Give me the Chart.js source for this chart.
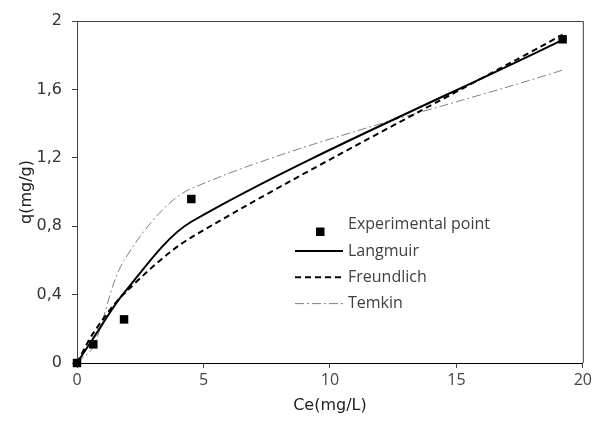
<!DOCTYPE html>
<html>
<head>
<meta charset="utf-8">
<script src="https://cdn.jsdelivr.net/npm/chart.js@4.4.1/dist/chart.umd.min.js"></script>
<style>
  html, body { margin: 0; padding: 0; background: #fff; }
  #wrap { width: 595px; height: 424px; }
</style>
</head>
<body>
<div id="wrap"><canvas id="isotherm" width="595" height="424"></canvas></div>
<script>
// equilibrium concentration Ce (mg/L) and uptake q (mg/g)
const ce = [0, 0.645, 1.86, 4.52, 19.2];
const qExperimental = [0, 0.109, 0.255, 0.959, 1.893];
const qLangmuir = [0, 0.145, 0.41, 0.826, 1.89];
const qFreundlich = [0, 0.175, 0.405, 0.735, 1.92];
const qTemkin = [0, 0.095, 0.6, 1.02, 1.713];

const xTicks = [0, 5, 10, 15, 20];
const yTicks = [0, 0.4, 0.8, 1.2, 1.6, 2];

const toPoints = (ys) => ce.map((x, i) => ({ x: x, y: ys[i] }));

// legend rows sit inside the plot, right of centre
const legendRows = [224.5, 251, 277.3, 303.6];
const legendLineX = [295, 343];
const legendTextX = 348;

const insideLegend = {
  id: 'insideLegend',
  afterDraw(chart) {
    const ctx = chart.ctx;
    ctx.save();
    ctx.textBaseline = 'middle';
    ctx.textAlign = 'left';
    ctx.font = '16px "Open Sans"';
    chart.data.datasets.forEach((ds, i) => {
      const y = legendRows[i];
      if (ds.showLine === false) {
        ctx.fillStyle = ds.backgroundColor;
        ctx.fillRect(316, y + 3, 8.5, 8.5);
      } else {
        ctx.strokeStyle = ds.borderColor;
        ctx.lineWidth = ds.borderWidth;
        ctx.setLineDash(ds.borderDash || []);
        ctx.beginPath();
        ctx.moveTo(legendLineX[0], y);
        ctx.lineTo(legendLineX[1], y);
        ctx.stroke();
      }
      ctx.setLineDash([]);
      ctx.fillStyle = '#404040';
      ctx.fillText(ds.label, legendTextX, y);
    });
    ctx.restore();
  }
};

// top and right edges of the plot box
const plotFrame = {
  id: 'plotFrame',
  beforeDatasetsDraw(chart) {
    const { ctx, chartArea: a } = chart;
    ctx.save();
    ctx.strokeStyle = '#404040';
    ctx.lineWidth = 1;
    ctx.beginPath();
    ctx.moveTo(a.left, a.top + 0.5);
    ctx.lineTo(a.right + 0.5, a.top + 0.5);
    ctx.lineTo(a.right + 0.5, a.bottom);
    ctx.stroke();
    ctx.restore();
  }
};

new Chart(document.getElementById('isotherm'), {
  type: 'scatter',
  data: {
    datasets: [
      {
        label: 'Experimental point',
        data: toPoints(qExperimental),
        showLine: false,
        pointStyle: 'rect',
        pointRadius: 6,
        pointHoverRadius: 6,
        backgroundColor: '#000',
        borderColor: '#000',
        borderWidth: 0,
        clip: false
      },
      {
        label: 'Langmuir',
        data: toPoints(qLangmuir),
        showLine: true,
        borderColor: '#000',
        borderWidth: 2,
        pointRadius: 0,
        tension: 0.3,
        clip: false
      },
      {
        label: 'Freundlich',
        data: toPoints(qFreundlich),
        showLine: true,
        borderColor: '#000',
        borderWidth: 2,
        borderDash: [6, 4],
        pointRadius: 0,
        tension: 0.3,
        clip: false
      },
      {
        label: 'Temkin',
        data: toPoints(qTemkin),
        showLine: true,
        borderColor: '#808080',
        borderWidth: 1,
        borderDash: [9, 3, 2, 3],
        pointRadius: 0,
        tension: 0.3,
        clip: false
      }
    ]
  },
  options: {
    responsive: false,
    animation: false,
    layout: { padding: { top: 21, right: 12, left: 0, bottom: 0 } },
    plugins: {
      legend: { display: false },
      tooltip: { enabled: false }
    },
    scales: {
      x: {
        type: 'linear',
        min: 0,
        max: 20,
        afterBuildTicks: (scale) => { scale.ticks = xTicks.map(v => ({ value: v })); },
        afterFit: (scale) => { scale.height = 61; },
        ticks: {
          color: '#444',
          font: { family: '"Open Sans"', size: 16 },
          padding: 3
        },
        grid: { display: true, drawOnChartArea: false, tickLength: 5, color: '#404040' },
        border: { color: '#000', width: 1 },
        title: {
          display: true,
          text: 'Ce(mg/L)',
          color: '#222',
          font: { family: '"DejaVu Sans"', size: 16 },
          padding: { top: 0, bottom: 9 }
        }
      },
      y: {
        type: 'linear',
        min: 0,
        max: 2,
        afterBuildTicks: (scale) => { scale.ticks = yTicks.map(v => ({ value: v })); },
        afterFit: (scale) => { scale.width = 77; },
        ticks: {
          color: '#333',
          font: { family: '"DejaVu Sans"', size: 16 },
          padding: 10,
          callback: (v) => String(Number(v.toFixed(1))).replace('.', ',')
        },
        grid: { display: true, drawOnChartArea: false, tickLength: 5, color: '#404040' },
        border: { color: '#404040', width: 1 },
        title: {
          display: true,
          text: 'q(mg/g)',
          color: '#222',
          font: { family: '"DejaVu Sans"', size: 16 },
          padding: { top: 17, bottom: 0 }
        }
      }
    }
  },
  plugins: [plotFrame, insideLegend]
});
</script>
</body>
</html>
